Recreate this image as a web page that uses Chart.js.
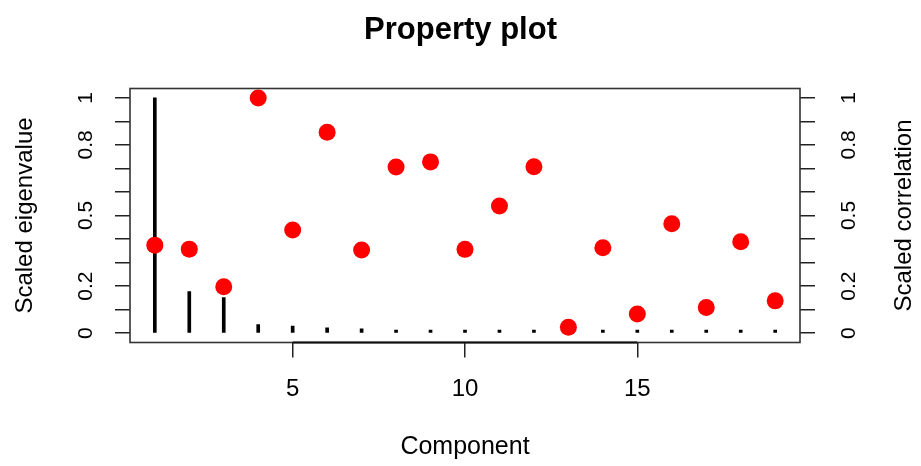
<!DOCTYPE html>
<html>
<head>
<meta charset="utf-8">
<title>Property plot</title>
<script src="https://cdn.jsdelivr.net/npm/chart.js@4"></script>
<style>
  html, body { margin: 0; padding: 0; background: #fff; }
  #wrap { width: 921px; height: 466px; }
</style>
</head>
<body>
<div id="wrap"><canvas id="propChart" width="921" height="466"></canvas></div>
<script>
// component index on the x axis
const components = [1, 2, 3, 4, 5, 6, 7, 8, 9, 10, 11, 12, 13, 14, 15, 16, 17, 18, 19];
// scaled eigenvalues (black spikes)
const eigenvalues = [1.0, 0.177, 0.151, 0.036, 0.030, 0.022, 0.018, 0.010, 0.008, 0.007,
                     0.006, 0.006, 0.005, 0.005, 0.005, 0.004, 0.004, 0.004, 0.004];
// scaled correlation (red dots)
const correlations = [0.374, 0.357, 0.197, 1.0, 0.438, 0.854, 0.353, 0.706, 0.728, 0.356,
                      0.540, 0.707, 0.025, 0.363, 0.081, 0.465, 0.109, 0.388, 0.137];
const xTicks = [5, 10, 15];
const yTickMarks = [0, 0.1, 0.2, 0.3, 0.4, 0.5, 0.6, 0.7, 0.8, 0.9, 1];
const yLabelValues = [0, 0.2, 0.5, 0.8, 1];
const yLabelText = ['0', '0.2', '0.5', '0.8', '1'];

const FONT = "'Liberation Sans', Arial, Helvetica, sans-serif";

// R style box, axis lines and rotated y labels
const rAxes = {
  id: 'rAxes',
  afterDraw(chart) {
    const { ctx, chartArea: a, scales } = chart;
    const x = scales.x, yl = scales.y, yr = scales.y1;
    ctx.save();
    ctx.strokeStyle = '#333';
    ctx.lineWidth = 1.6;
    ctx.strokeRect(a.left, a.top, a.right - a.left, a.bottom - a.top);

    // axis line between first and last x tick
    ctx.strokeStyle = '#111';
    ctx.lineWidth = 2;
    ctx.beginPath();
    ctx.moveTo(x.getPixelForValue(xTicks[0]), a.bottom);
    ctx.lineTo(x.getPixelForValue(xTicks[xTicks.length - 1]), a.bottom);
    ctx.stroke();

    ctx.fillStyle = '#000';
    ctx.font = '21px ' + FONT;
    ctx.textAlign = 'center';
    ctx.textBaseline = 'alphabetic';
    yLabelValues.forEach((v, i) => {
      [[yl, 92], [yr, 855]].forEach(([s, px]) => {
        ctx.save();
        ctx.translate(px, s.getPixelForValue(v));
        ctx.rotate(-Math.PI / 2);
        ctx.fillText(yLabelText[i], 0, 0);
        ctx.restore();
      });
    });

    // axis titles
    ctx.font = '24px ' + FONT;
    const midY = (a.top + a.bottom) / 2;
    [['Scaled eigenvalue', 32], ['Scaled correlation', 911]].forEach(([t, px]) => {
      ctx.save();
      ctx.translate(px, midY);
      ctx.rotate(-Math.PI / 2);
      ctx.fillText(t, 0, 0);
      ctx.restore();
    });
    ctx.restore();
  }
};

const yAxisCommon = {
  min: -0.04,
  max: 1.04,
  afterBuildTicks: (s) => { s.ticks = yTickMarks.map(v => ({ value: v })); },
  ticks: { display: false },
  grid: { drawOnChartArea: false, drawTicks: true, tickLength: 15, color: '#222', lineWidth: 1.5 },
  border: { display: false }
};

new Chart(document.getElementById('propChart'), {
  type: 'bar',
  data: {
    datasets: [
      {
        type: 'bar',
        label: 'Scaled eigenvalue',
        data: components.map((c, i) => ({ x: c, y: eigenvalues[i] })),
        backgroundColor: '#000',
        barThickness: 3,
        minBarLength: 3,
        yAxisID: 'y',
        order: 2
      },
      {
        type: 'scatter',
        label: 'Scaled correlation',
        data: components.map((c, i) => ({ x: c, y: correlations[i] })),
        backgroundColor: '#f00',
        borderWidth: 0,
        pointRadius: 8.5,
        yAxisID: 'y1',
        order: 1
      }
    ]
  },
  options: {
    responsive: false,
    animation: false,
    layout: { padding: 0 },
    plugins: {
      legend: { display: false },
      tooltip: { enabled: false },
      title: {
        display: true,
        text: 'Property plot',
        color: '#000',
        font: { family: FONT, size: 31, weight: 'bold' },
        padding: { top: 12, bottom: 39.3 }
      }
    },
    scales: {
      x: {
        type: 'linear',
        min: 0.28,
        max: 19.72,
        offset: false,
        afterBuildTicks: (s) => { s.ticks = xTicks.map(v => ({ value: v })); },
        afterFit: (s) => { s.height = 123.5; },
        ticks: { color: '#000', font: { family: FONT, size: 24 }, padding: 17 },
        grid: { drawOnChartArea: false, drawTicks: true, tickLength: 15, color: '#222', lineWidth: 1.5, offset: false },
        border: { display: false },
        title: { display: true, text: 'Component', color: '#000', font: { family: FONT, size: 25 }, padding: { top: 20 } }
      },
      y: Object.assign({ position: 'left', afterFit: (s) => { s.width = 130; } }, yAxisCommon),
      y1: Object.assign({ position: 'right', afterFit: (s) => { s.width = 121; } }, yAxisCommon)
    }
  },
  plugins: [rAxes]
});
</script>
</body>
</html>
